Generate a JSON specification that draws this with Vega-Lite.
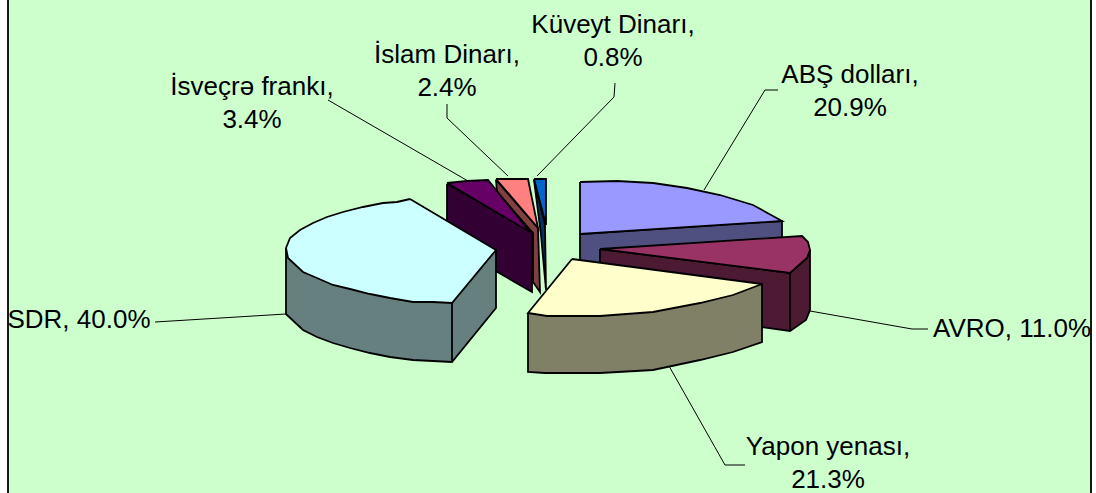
{"$schema":"https://vega.github.io/schema/vega-lite/v6.json","width":1096,"height":493,"padding":0,"autosize":{"type":"fit","contains":"padding"},"background":"#FFFFFF","view":{"stroke":null},
"datasets":{
"outlines":[
{"p":"frame","i":0,"x":8,"y":-5},{"p":"frame","i":1,"x":1091,"y":-5},{"p":"frame","i":2,"x":1091,"y":498},{"p":"frame","i":3,"x":8,"y":498},{"p":"frame","i":4,"x":8,"y":-5},
{"p":"ABŞ side","i":0,"x":580,"y":234},{"p":"ABŞ side","i":1,"x":782,"y":221},{"p":"ABŞ side","i":2,"x":782,"y":280},{"p":"ABŞ side","i":3,"x":580,"y":292},{"p":"ABŞ side","i":4,"x":580,"y":234},
{"p":"ABŞ top","i":0,"x":580,"y":182},{"p":"ABŞ top","i":1,"x":617,"y":181},{"p":"ABŞ top","i":2,"x":653,"y":183},{"p":"ABŞ top","i":3,"x":687,"y":188},{"p":"ABŞ top","i":4,"x":720,"y":195},{"p":"ABŞ top","i":5,"x":753,"y":205},{"p":"ABŞ top","i":6,"x":782,"y":221},{"p":"ABŞ top","i":7,"x":580,"y":234},{"p":"ABŞ top","i":8,"x":580,"y":182},
{"p":"AVRO side","i":0,"x":600,"y":249},{"p":"AVRO side","i":1,"x":790,"y":273},{"p":"AVRO side","i":2,"x":807,"y":258},{"p":"AVRO side","i":3,"x":810,"y":250},{"p":"AVRO side","i":4,"x":810,"y":310},{"p":"AVRO side","i":5,"x":806,"y":320},{"p":"AVRO side","i":6,"x":790,"y":331},{"p":"AVRO side","i":7,"x":600,"y":305},{"p":"AVRO side","i":8,"x":600,"y":249},
{"p":"AVRO cut","i":0,"x":790,"y":273},{"p":"AVRO cut","i":1,"x":790,"y":331},
{"p":"AVRO top","i":0,"x":600,"y":249},{"p":"AVRO top","i":1,"x":802,"y":236},{"p":"AVRO top","i":2,"x":808,"y":242},{"p":"AVRO top","i":3,"x":810,"y":250},{"p":"AVRO top","i":4,"x":807,"y":258},{"p":"AVRO top","i":5,"x":790,"y":273},{"p":"AVRO top","i":6,"x":600,"y":249},
{"p":"Yapon side","i":0,"x":528,"y":313},{"p":"Yapon side","i":1,"x":528,"y":372},{"p":"Yapon side","i":2,"x":545,"y":373},{"p":"Yapon side","i":3,"x":600,"y":373},{"p":"Yapon side","i":4,"x":653,"y":370},{"p":"Yapon side","i":5,"x":700,"y":360},{"p":"Yapon side","i":6,"x":733,"y":352},{"p":"Yapon side","i":7,"x":762,"y":342},{"p":"Yapon side","i":8,"x":762,"y":284},{"p":"Yapon side","i":9,"x":528,"y":313},
{"p":"Yapon top","i":0,"x":572,"y":259},{"p":"Yapon top","i":1,"x":762,"y":284},{"p":"Yapon top","i":2,"x":733,"y":295},{"p":"Yapon top","i":3,"x":700,"y":303},{"p":"Yapon top","i":4,"x":653,"y":312},{"p":"Yapon top","i":5,"x":600,"y":316},{"p":"Yapon top","i":6,"x":547,"y":316},{"p":"Yapon top","i":7,"x":528,"y":313},{"p":"Yapon top","i":8,"x":572,"y":259},
{"p":"Küveyt side","i":0,"x":534,"y":180},{"p":"Küveyt side","i":1,"x":545,"y":225},{"p":"Küveyt side","i":2,"x":546,"y":290},{"p":"Küveyt side","i":3,"x":541,"y":235},{"p":"Küveyt side","i":4,"x":534,"y":180},
{"p":"Küveyt top","i":0,"x":534,"y":179},{"p":"Küveyt top","i":1,"x":546,"y":179},{"p":"Küveyt top","i":2,"x":546,"y":225},{"p":"Küveyt top","i":3,"x":534,"y":179},
{"p":"İslam side","i":0,"x":496,"y":180},{"p":"İslam side","i":1,"x":538,"y":228},{"p":"İslam side","i":2,"x":540,"y":292},{"p":"İslam side","i":3,"x":533,"y":282},{"p":"İslam side","i":4,"x":533,"y":233},{"p":"İslam side","i":5,"x":497,"y":192},{"p":"İslam side","i":6,"x":496,"y":180},
{"p":"İslam top","i":0,"x":496,"y":179},{"p":"İslam top","i":1,"x":528,"y":179},{"p":"İslam top","i":2,"x":538,"y":228},{"p":"İslam top","i":3,"x":496,"y":179},
{"p":"İsveçrə side","i":0,"x":447,"y":184},{"p":"İsveçrə side","i":1,"x":532,"y":232},{"p":"İsveçrə side","i":2,"x":532,"y":292},{"p":"İsveçrə side","i":3,"x":447,"y":243},{"p":"İsveçrə side","i":4,"x":447,"y":184},
{"p":"İsveçrə top","i":0,"x":447,"y":183},{"p":"İsveçrə top","i":1,"x":467,"y":181},{"p":"İsveçrə top","i":2,"x":488,"y":180},{"p":"İsveçrə top","i":3,"x":530,"y":232},{"p":"İsveçrə top","i":4,"x":447,"y":183},
{"p":"SDR side","i":0,"x":286,"y":248},{"p":"SDR side","i":1,"x":286,"y":314},{"p":"SDR side","i":2,"x":303,"y":330},{"p":"SDR side","i":3,"x":317,"y":337},{"p":"SDR side","i":4,"x":333,"y":343},{"p":"SDR side","i":5,"x":350,"y":348},{"p":"SDR side","i":6,"x":370,"y":353},{"p":"SDR side","i":7,"x":390,"y":357},{"p":"SDR side","i":8,"x":413,"y":360},{"p":"SDR side","i":9,"x":433,"y":361},{"p":"SDR side","i":10,"x":452,"y":362},{"p":"SDR side","i":11,"x":496,"y":308},{"p":"SDR side","i":12,"x":496,"y":250},{"p":"SDR side","i":13,"x":286,"y":248},
{"p":"SDR cut","i":0,"x":452,"y":303},{"p":"SDR cut","i":1,"x":452,"y":362},
{"p":"SDR top","i":0,"x":410,"y":199},{"p":"SDR top","i":1,"x":397,"y":202},{"p":"SDR top","i":2,"x":383,"y":203},{"p":"SDR top","i":3,"x":363,"y":207},{"p":"SDR top","i":4,"x":343,"y":212},{"p":"SDR top","i":5,"x":327,"y":217},{"p":"SDR top","i":6,"x":313,"y":223},{"p":"SDR top","i":7,"x":300,"y":230},{"p":"SDR top","i":8,"x":290,"y":238},{"p":"SDR top","i":9,"x":286,"y":248},{"p":"SDR top","i":10,"x":288,"y":258},{"p":"SDR top","i":11,"x":303,"y":272},{"p":"SDR top","i":12,"x":317,"y":278},{"p":"SDR top","i":13,"x":333,"y":285},{"p":"SDR top","i":14,"x":350,"y":289},{"p":"SDR top","i":15,"x":370,"y":294},{"p":"SDR top","i":16,"x":390,"y":298},{"p":"SDR top","i":17,"x":413,"y":302},{"p":"SDR top","i":18,"x":433,"y":302},{"p":"SDR top","i":19,"x":452,"y":303},{"p":"SDR top","i":20,"x":496,"y":250},{"p":"SDR top","i":21,"x":410,"y":199}
],
"leaders":[
{"s":"Küveyt","i":0,"x":615,"y":83},{"s":"Küveyt","i":1,"x":614,"y":97},{"s":"Küveyt","i":2,"x":537,"y":176},
{"s":"İslam","i":0,"x":447,"y":104},{"s":"İslam","i":1,"x":447,"y":118},{"s":"İslam","i":2,"x":508,"y":176},
{"s":"İsveçrə","i":0,"x":328,"y":100},{"s":"İsveçrə","i":1,"x":468,"y":181},
{"s":"ABŞ","i":0,"x":778,"y":90},{"s":"ABŞ","i":1,"x":765,"y":90},{"s":"ABŞ","i":2,"x":704,"y":190},
{"s":"AVRO","i":0,"x":928,"y":329},{"s":"AVRO","i":1,"x":912,"y":329},{"s":"AVRO","i":2,"x":810,"y":311},
{"s":"Yapon","i":0,"x":745,"y":465},{"s":"Yapon","i":1,"x":725,"y":465},{"s":"Yapon","i":2,"x":669,"y":366},
{"s":"SDR","i":0,"x":155,"y":322},{"s":"SDR","i":1,"x":286,"y":314}
],
"labels":[
{"label":"Küveyt Dinarı,\n0.8%","x":613,"y":25},
{"label":"İslam Dinarı,\n2.4%","x":447,"y":55},
{"label":"İsveçrə frankı,\n3.4%","x":252,"y":87},
{"label":"ABŞ dolları,\n20.9%","x":850,"y":75},
{"label":"AVRO, 11.0%","x":1012,"y":329},
{"label":"Yapon yenası,\n21.3%","x":828,"y":447},
{"label":"SDR, 40.0%","x":79,"y":320}
]},
"layer":[
{"data":{"name":"outlines"},"mark":{"type":"line","filled":true,"stroke":"#000000","strokeWidth":1.8,"strokeJoin":"miter","clip":true,"fillOpacity":1},"encoding":{"x":{"field":"x","type":"quantitative","scale":{"domain":[0,1096]},"axis":null},"y":{"field":"y","type":"quantitative","scale":{"domain":[493,0]},"axis":null},"fill":{"field":"p","type":"nominal","legend":null,"scale":{"domain":["frame","ABŞ side","ABŞ top","AVRO side","AVRO cut","AVRO top","Yapon side","Yapon top","Küveyt side","Küveyt top","İslam side","İslam top","İsveçrə side","İsveçrə top","SDR side","SDR cut","SDR top"],"range":["#CCFFCC","#4F4F80","#9999FF","#4D1A33","#4D1A33","#993366","#808066","#FFFFCC","#003366","#0066CC","#804040","#FF8080","#330033","#660066","#668080","#668080","#CCFFFF"]}},"detail":{"field":"p"},"order":{"field":"i"}}},
{"data":{"name":"leaders"},"mark":{"type":"line","stroke":"#000000","strokeWidth":1},"encoding":{"x":{"field":"x","type":"quantitative","scale":{"domain":[0,1096]},"axis":null},"y":{"field":"y","type":"quantitative","scale":{"domain":[493,0]},"axis":null},"detail":{"field":"s"},"order":{"field":"i"}}},
{"data":{"name":"labels"},"mark":{"type":"text","font":"Liberation Sans","fontSize":26,"lineBreak":"\n","lineHeight":33,"align":"center","baseline":"middle","color":"#000000"},"encoding":{"x":{"field":"x","type":"quantitative","scale":{"domain":[0,1096]},"axis":null},"y":{"field":"y","type":"quantitative","scale":{"domain":[493,0]},"axis":null},"text":{"field":"label"}}}
]}
